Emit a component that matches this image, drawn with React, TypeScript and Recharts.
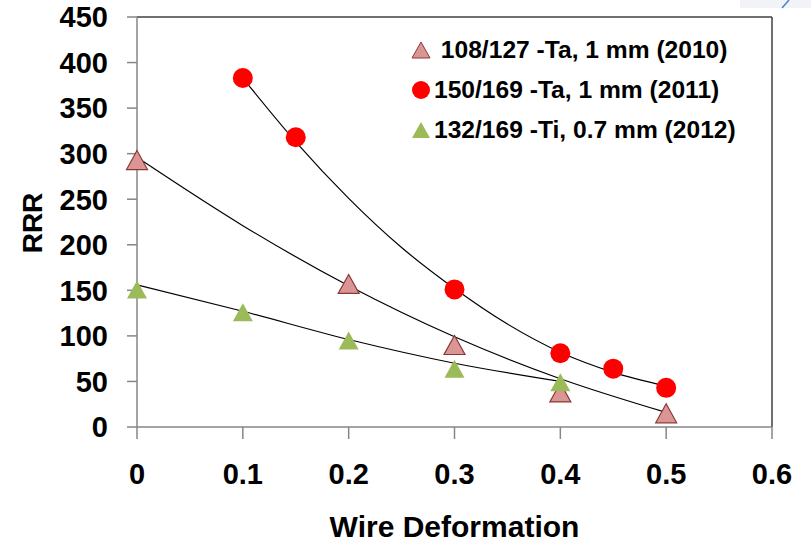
import React from "react";
import {
  ComposedChart,
  Line,
  Scatter,
  XAxis,
  YAxis,
  ReferenceLine,
  Legend,
} from "recharts";

const FONT = "'Liberation Sans', Arial, sans-serif";

// axis ticks
const xTicks = [0, 0.1, 0.2, 0.3, 0.4, 0.5, 0.6];
const yTicks = [0, 50, 100, 150, 200, 250, 300, 350, 400, 450];

// measured points
const ta2010X = [0, 0.2, 0.3, 0.4, 0.5];
const ta2010Y = [293, 157, 90, 38, 15];
const ta2011X = [0.1, 0.15, 0.3, 0.4, 0.45, 0.5];
const ta2011Y = [383, 318, 151, 81, 64, 43];
const ti2012X = [0, 0.1, 0.2, 0.3, 0.4];
const ti2012Y = [151, 126, 95, 64, 49];

// trend lines
const trend2010X = [0, 0.1, 0.2, 0.3, 0.4, 0.5];
const trend2010Y = [296, 221, 155, 99, 53, 16];
const trend2011X = [0.1, 0.15, 0.2, 0.25, 0.3, 0.35, 0.4, 0.45, 0.5];
const trend2011Y = [383, 313, 251, 197, 152, 113, 82, 60, 45];
const trend2012X = [0, 0.1, 0.2, 0.3, 0.4];
const trend2012Y = [156, 127, 96, 70, 50];

const legendLabels = [
  " 108/127 -Ta, 1 mm (2010)",
  "150/169 -Ta, 1 mm (2011)",
  "132/169 -Ti, 0.7 mm (2012)",
];

const pts = (xs: number[], ys: number[]) => xs.map((x, i) => ({ x, y: ys[i] }));

const PINK = "#d99694";
const PINK_EDGE = "#8c3836";
const RED = "#ff0000";
const GREEN = "#9bbb59";

function tri(cx: number, cy: number, w: number, h: number) {
  return `${cx},${cy - h / 2} ${cx + w / 2},${cy + h / 2} ${cx - w / 2},${cy + h / 2}`;
}

const PinkMark = (p: any) => (
  <polygon points={tri(p.cx, p.cy, 21, 19)} fill={PINK} stroke={PINK_EDGE} strokeWidth={1.2} />
);
const RedMark = (p: any) => <circle cx={p.cx} cy={p.cy} r={10} fill={RED} />;
const GreenMark = (p: any) => <polygon points={tri(p.cx, p.cy, 20, 18)} fill={GREEN} />;

function LegendBox() {
  const icons = [
    <svg width={22} height={20} key="a">
      <polygon points={tri(11, 10, 18, 16)} fill={PINK} stroke={PINK_EDGE} strokeWidth={1} />
    </svg>,
    <svg width={22} height={20} key="b">
      <circle cx={11} cy={10} r={9} fill={RED} />
    </svg>,
    <svg width={22} height={20} key="c">
      <polygon points={tri(11, 10, 18, 16)} fill={GREEN} />
    </svg>,
  ];
  return (
    <div style={{ fontFamily: FONT, fontWeight: 700, fontSize: 24.6, color: "#000" }}>
      {legendLabels.map((t, i) => (
        <div key={t} style={{ display: "flex", alignItems: "center", height: 40 }}>
          {icons[i]}
          <span style={{ whiteSpace: "pre", marginLeft: 2 }}>{t}</span>
        </div>
      ))}
    </div>
  );
}

export default function App() {
  const tickStyle = { fontSize: 29, fontWeight: 700, fill: "#000", fontFamily: FONT };
  return (
    <div style={{ position: "absolute", left: 0, top: 0, width: 811, height: 542, background: "#fff" }}>
      <svg style={{ position: "absolute", left: 740, top: 0 }} width={71} height={9}>
        <rect x={0} y={0} width={71} height={8} fill="#f2f3f6" />
        <line x1={49} y1={0} x2={42} y2={8} stroke="#4a7fd0" strokeWidth={1.5} />
      </svg>
      <ComposedChart width={811} height={542} margin={{ top: 17, right: 39, left: 0, bottom: 0 }}>
        <XAxis
          type="number"
          dataKey="x"
          domain={[0, 0.6]}
          ticks={xTicks}
          interval={0}
          height={115}
          tickSize={12}
          tickMargin={24}
          axisLine={{ stroke: "#868686", strokeWidth: 1.5 }}
          tickLine={{ stroke: "#868686", strokeWidth: 1.5 }}
          tick={tickStyle}
          label={{
            value: "Wire Deformation",
            position: "insideBottom",
            offset: 5,
            fontSize: 30,
            fontWeight: 700,
            fill: "#000",
            fontFamily: FONT,
          }}
        />
        <YAxis
          type="number"
          domain={[0, 450]}
          ticks={yTicks}
          interval={0}
          width={137}
          tickSize={10}
          tickMargin={19}
          axisLine={{ stroke: "#868686", strokeWidth: 1.5 }}
          tickLine={{ stroke: "#868686", strokeWidth: 1.5 }}
          tick={tickStyle}
          label={{
            content: () => (
              <text
                transform="translate(42,223) rotate(-90)"
                textAnchor="middle"
                fontSize={28}
                fontWeight={700}
                fontFamily={FONT}
                fill="#000"
              >
                RRR
              </text>
            ),
          }}
        />
        <ReferenceLine y={450} stroke="#404040" strokeWidth={1.5} />
        <ReferenceLine x={0.6} stroke="#404040" strokeWidth={1.5} />
        <Legend
          layout="horizontal"
          verticalAlign="middle"
          align="center"
          content={() => <LegendBox />}
          wrapperStyle={{ position: "absolute", left: 410, top: 30, width: 390 }}
        />
        <Scatter data={pts(ta2010X, ta2010Y)} dataKey="y" shape={PinkMark} isAnimationActive={false} />
        <Scatter data={pts(ta2011X, ta2011Y)} dataKey="y" shape={RedMark} isAnimationActive={false} />
        <Scatter data={pts(ti2012X, ti2012Y)} dataKey="y" shape={GreenMark} isAnimationActive={false} />
        <Line data={pts(trend2010X, trend2010Y)} dataKey="y" type="monotone" stroke="#000" strokeWidth={1.2} dot={false} isAnimationActive={false} />
        <Line data={pts(trend2011X, trend2011Y)} dataKey="y" type="monotone" stroke="#000" strokeWidth={1.2} dot={false} isAnimationActive={false} />
        <Line data={pts(trend2012X, trend2012Y)} dataKey="y" type="monotone" stroke="#000" strokeWidth={1.2} dot={false} isAnimationActive={false} />
      </ComposedChart>
    </div>
  );
}
